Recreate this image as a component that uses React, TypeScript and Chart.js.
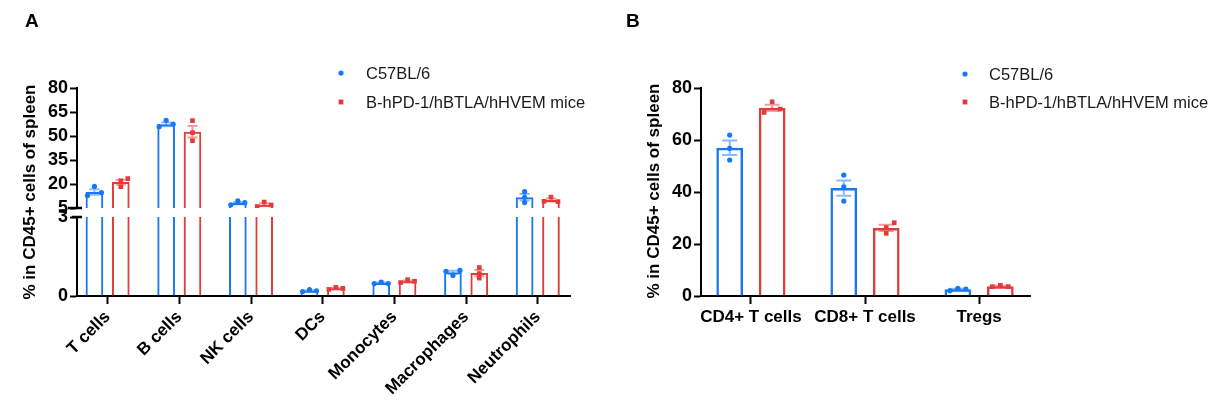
import React, { useEffect, useRef } from 'react';
import { Chart, registerables } from 'chart.js';

Chart.register(...registerables);

const FONT = '"Liberation Sans", Arial, Helvetica, sans-serif';
Chart.defaults.font.family = FONT;
Chart.defaults.color = '#000';

// ---------------- data ----------------
const SERIES_NAMES = ['C57BL/6', 'B-hPD-1/hBTLA/hHVEM mice'];

// Panel A
const A_CATEGORIES = ['T cells', 'B cells', 'NK cells', 'DCs', 'Monocytes', 'Macrophages', 'Neutrophils'];
const A_WT_MEAN = [15.0, 57.3, 8.1, 0.2, 0.49, 0.9, 11.7];
const A_WT_SEM = [1.7, 1.2, 0.7, 0.02, 0.02, 0.06, 2.0];
const A_WT_POINTS = [
  [12.8, 18.5, 14.6], [55.8, 59.8, 57.4], [7.0, 9.4, 8.3], [0.17, 0.24, 0.2],
  [0.47, 0.53, 0.47], [0.94, 0.97, 0.78], [15.2, 11.7, 8.4],
];
const A_MUT_MEAN = [21.2, 52.6, 7.1, 0.29, 0.56, 0.87, 10.0];
const A_MUT_SEM = [1.5, 3.6, 0.8, 0.02, 0.03, 0.12, 0.9];
const A_MUT_POINTS = [
  [18.3, 22.0, 23.4], [59.6, 52.1, 47.1], [5.9, 8.7, 6.9], [0.25, 0.33, 0.29],
  [0.51, 0.62, 0.56], [1.08, 0.85, 0.68], [11.8, 9.2, 9.0],
];
const A_UPPER_TICKS = [5, 20, 35, 50, 65, 80];
const A_LOWER_TICKS = [0, 3];

// Panel B
const B_CATEGORIES = ['CD4+ T cells', 'CD8+ T cells', 'Tregs'];
const B_WT_MEAN = [57.0, 41.5, 2.55];
const B_WT_SEM = [2.8, 2.9, 0.27];
const B_WT_POINTS = [[61.9, 56.8, 52.3], [46.5, 42.0, 36.5], [2.05, 2.95, 2.7]];
const B_MUT_MEAN = [72.4, 26.2, 3.75];
const B_MUT_SEM = [1.2, 1.2, 0.17];
const B_MUT_POINTS = [[74.7, 70.6, 71.9], [28.2, 26.3, 24.1], [3.6, 4.1, 3.6]];
const B_TICKS = [0, 20, 40, 60, 80];
const Y_TITLE = '% in CD45+ cells of spleen';

// ---------------- layout / style ----------------
// horizontal scatter of the individual dots (in multiples of the dot spread)
const A_WT_SPREAD = [[-1, 0, 1], [-1, 0, 1], [-1, 0, 1], [-1, 0, 1], [-1, 0, 1], [-1, 1, 0], [0, 0, 0]];
const A_MUT_SPREAD = [[0, 0, 1], [0, 0, 0], [-1, 0, 1], [-1, 0, 1], [-1, 0, 1], [0, 0, 0], [0, -1, 1]];
const B_WT_SPREAD = [[0, 0, 0], [0, 0, 0], [-1, 0, 1]];
const B_MUT_SPREAD = [[0, -1, 1], [1, 0, 0], [-1, 0, 1]];

const COLORS = ['#1877F2', '#E23B3B'];
const ERR_COLORS = ['rgba(24,119,242,0.5)', 'rgba(226,59,59,0.5)'];
const X_TICK_FONT = { family: FONT, size: 17, weight: 'bold' as const };
const Y_TICK_FONT = { family: FONT, size: 18, weight: 'bold' as const };

interface Spec {
  left: number;
  width: number;
  height: number;
  cats: string[];
  means: number[][];
  sems: number[][];
  points: number[][][];
  spreads: number[][][];
  yMin: number;
  yMax: number;
  yTicks: number[];
  area: { left: number; right: number; top: number; bottom: number };
  xMin: number;
  xMax: number;
  catPct: number;
  barPct: number;
  spreadPx: number;
  capW: number;
  barBorder: number;
  showX: boolean;
  rotate: number;
  deco?: (ctx: CanvasRenderingContext2D, chart: any) => void;
}

function drawLegend(ctx: CanvasRenderingContext2D, mx: number, tx: number, y0: number, dy: number) {
  for (let k = 0; k < 2; k++) {
    const y = y0 + k * dy;
    ctx.fillStyle = COLORS[k];
    ctx.beginPath();
    if (k === 0) ctx.arc(mx, y, 2.6, 0, Math.PI * 2);
    else ctx.rect(mx - 2.4, y - 2.4, 4.8, 4.8);
    ctx.fill();
    ctx.fillStyle = '#1a1a1a';
    ctx.font = `16.5px ${FONT}`;
    ctx.textAlign = 'left';
    ctx.textBaseline = 'middle';
    ctx.fillText(SERIES_NAMES[k], tx, y + 1);
  }
}

function drawYTitle(ctx: CanvasRenderingContext2D, x: number, y: number) {
  ctx.save();
  ctx.translate(x, y);
  ctx.rotate(-Math.PI / 2);
  ctx.fillStyle = '#000';
  ctx.font = `bold 17px ${FONT}`;
  ctx.textAlign = 'center';
  ctx.textBaseline = 'middle';
  ctx.fillText(Y_TITLE, 0, 0);
  ctx.restore();
}

function drawLetter(ctx: CanvasRenderingContext2D, t: string, x: number, y: number) {
  ctx.fillStyle = '#000';
  ctx.font = `bold 19px ${FONT}`;
  ctx.textAlign = 'left';
  ctx.textBaseline = 'alphabetic';
  ctx.fillText(t, x, y);
}

function drawBreak(ctx: CanvasRenderingContext2D, x0: number, x1: number, y: number) {
  ctx.strokeStyle = '#000';
  ctx.lineWidth = 2.5;
  ctx.beginPath();
  ctx.moveTo(x0, y);
  ctx.lineTo(x1, y);
  ctx.stroke();
}

function buildConfig(s: Spec): any {
  const catPx = (s.area.right - s.area.left) / (s.xMax - s.xMin);
  const half = s.catPct / 4;
  const inRange = (v: number) => v >= s.yMin - 1e-9 && v <= s.yMax + 1e-9;

  const scatter = [0, 1].map((k) => ({
    type: 'scatter',
    label: SERIES_NAMES[k],
    data: s.points[k]
      .flatMap((pts, i) =>
        pts.map((v, j) => ({
          x: i + (k === 0 ? -half : half) + (s.spreads[k][i][j] * s.spreadPx) / catPx,
          y: v,
        })),
      )
      .filter((p) => inRange(p.y)),
    pointStyle: k === 0 ? 'circle' : 'rect',
    pointRadius: k === 0 ? 2.6 : 3.3,
    pointHoverRadius: k === 0 ? 2.6 : 3.3,
    backgroundColor: COLORS[k],
    borderColor: COLORS[k],
    borderWidth: 0,
  }));

  const bars = [0, 1].map((k) => ({
    type: 'bar',
    label: SERIES_NAMES[k],
    data: s.means[k].map((v, i) => ({ x: i, y: v })),
    backgroundColor: 'rgba(255,255,255,0)',
    borderColor: COLORS[k],
    borderWidth: s.barBorder,
    borderSkipped: 'start',
    categoryPercentage: s.catPct,
    barPercentage: s.barPct,
    clip: 0,
  }));

  const errPlugin = {
    id: 'errbars',
    afterDatasetDraw(chart: any, args: any) {
      const k = args.index - 2;
      if (k < 0) return;
      const ys = chart.scales.y;
      const ctx: CanvasRenderingContext2D = chart.ctx;
      ctx.save();
      ctx.strokeStyle = ERR_COLORS[k];
      ctx.lineWidth = 2;
      args.meta.data.forEach((el: any, i: number) => {
        const m = s.means[k][i];
        const e = s.sems[k][i];
        if (m < s.yMin || m > s.yMax) return;
        const x = el.x;
        const top = Math.min(m + e, s.yMax);
        const bot = Math.max(m - e, s.yMin);
        const pt = ys.getPixelForValue(top);
        const pb = ys.getPixelForValue(bot);
        ctx.beginPath();
        ctx.moveTo(x, pt);
        ctx.lineTo(x, pb);
        if (m + e <= s.yMax) {
          ctx.moveTo(x - s.capW / 2, pt);
          ctx.lineTo(x + s.capW / 2, pt);
        }
        if (m - e >= s.yMin) {
          ctx.moveTo(x - s.capW / 2, pb);
          ctx.lineTo(x + s.capW / 2, pb);
        }
        ctx.stroke();
      });
      ctx.restore();
    },
  };

  const decoPlugin = {
    id: 'deco',
    afterDraw(chart: any) {
      if (!s.deco) return;
      const ctx: CanvasRenderingContext2D = chart.ctx;
      ctx.save();
      s.deco(ctx, chart);
      ctx.restore();
    },
  };

  return {
    type: 'bar',
    data: { datasets: [...scatter, ...bars] },
    plugins: [errPlugin, decoPlugin],
    options: {
      responsive: false,
      animation: false,
      devicePixelRatio: 1,
      events: [],
      layout: {
        padding: {
          left: 0,
          top: s.area.top,
          right: s.width - s.area.right,
          bottom: s.showX ? 0 : s.height - s.area.bottom,
        },
      },
      plugins: { legend: { display: false }, tooltip: { enabled: false }, title: { display: false } },
      scales: {
        x: {
          type: 'linear',
          min: s.xMin,
          max: s.xMax,
          bounds: 'data',
          offset: false,
          display: s.showX,
          afterBuildTicks: (sc: any) => {
            sc.ticks = s.cats.map((_, i) => ({ value: i }));
          },
          afterFit: (sc: any) => {
            if (s.showX) sc.height = s.height - s.area.bottom;
            else sc.height = 0;
          },
          border: { display: true, color: '#000', width: 2 },
          grid: {
            display: true,
            offset: false,
            drawOnChartArea: false,
            drawTicks: true,
            tickLength: 8,
            tickWidth: 2,
            tickColor: '#000',
          },
          ticks: {
            autoSkip: false,
            minRotation: s.rotate,
            maxRotation: s.rotate,
            padding: 3,
            color: '#000',
            font: X_TICK_FONT,
            callback: (v: number) => s.cats[Math.round(v)] ?? '',
          },
        },
        y: {
          type: 'linear',
          min: s.yMin,
          max: s.yMax,
          bounds: 'data',
          afterBuildTicks: (sc: any) => {
            sc.ticks = s.yTicks.map((v) => ({ value: v }));
          },
          afterFit: (sc: any) => {
            sc.width = s.area.left;
          },
          border: { display: true, color: '#000', width: 2 },
          grid: {
            display: true,
            drawOnChartArea: false,
            drawTicks: true,
            tickLength: 7,
            tickWidth: 2,
            tickColor: '#000',
          },
          ticks: { autoSkip: false, padding: 2, color: '#000', font: Y_TICK_FONT },
        },
      },
    },
  };
}

const A_COMMON = {
  left: 0,
  width: 610,
  height: 406,
  cats: A_CATEGORIES,
  means: [A_WT_MEAN, A_MUT_MEAN],
  sems: [A_WT_SEM, A_MUT_SEM],
  points: [A_WT_POINTS, A_MUT_POINTS],
  spreads: [A_WT_SPREAD, A_MUT_SPREAD],
  xMin: -0.427,
  xMax: 6.449,
  catPct: 0.735,
  barPct: 0.67,
  spreadPx: 7,
  capW: 10,
  barBorder: 2,
};

const SPEC_A_UPPER: Spec = {
  ...A_COMMON,
  yMin: 5,
  yMax: 80,
  yTicks: A_UPPER_TICKS,
  area: { left: 77, right: 570, top: 88, bottom: 208 },
  showX: false,
  rotate: 45,
  deco: (ctx) => {
    drawLegend(ctx, 341, 366, 73, 29);
    drawBreak(ctx, 68, 82, 208);
  },
};

const SPEC_A_LOWER: Spec = {
  ...A_COMMON,
  yMin: 0,
  yMax: 3,
  yTicks: A_LOWER_TICKS,
  area: { left: 77, right: 570, top: 217, bottom: 296 },
  showX: true,
  rotate: 45,
  deco: (ctx) => {
    drawBreak(ctx, 72, 82, 217);
    drawYTitle(ctx, 30, 192);
    drawLetter(ctx, 'A', 25, 27);
  },
};

const SPEC_B: Spec = {
  left: 610,
  width: 609,
  height: 406,
  cats: B_CATEGORIES,
  means: [B_WT_MEAN, B_MUT_MEAN],
  sems: [B_WT_SEM, B_MUT_SEM],
  points: [B_WT_POINTS, B_MUT_POINTS],
  spreads: [B_WT_SPREAD, B_MUT_SPREAD],
  yMin: 0,
  yMax: 80,
  yTicks: B_TICKS,
  area: { left: 91, right: 420, top: 88, bottom: 296 },
  xMin: -0.4375,
  xMax: 2.446,
  catPct: 0.744,
  barPct: 0.63,
  spreadPx: 8,
  capW: 15,
  barBorder: 2.5,
  showX: true,
  rotate: 0,
  deco: (ctx) => {
    drawLegend(ctx, 355, 379, 74, 28);
    drawYTitle(ctx, 44, 191);
    drawLetter(ctx, 'B', 16, 27);
  },
};

function ChartCanvas({ spec }: { spec: Spec }) {
  const ref = useRef<HTMLCanvasElement>(null);
  useEffect(() => {
    if (!ref.current) return;
    const chart = new Chart(ref.current, buildConfig(spec));
    return () => chart.destroy();
  }, [spec]);
  return (
    <canvas
      ref={ref}
      width={spec.width}
      height={spec.height}
      style={{ position: 'absolute', left: spec.left, top: 0, width: spec.width, height: spec.height }}
    />
  );
}

export default function App() {
  return (
    <div style={{ position: 'absolute', left: 0, top: 0, width: 1219, height: 406, background: '#fff', overflow: 'hidden' }}>
      <ChartCanvas spec={SPEC_A_UPPER} />
      <ChartCanvas spec={SPEC_A_LOWER} />
      <ChartCanvas spec={SPEC_B} />
    </div>
  );
}
